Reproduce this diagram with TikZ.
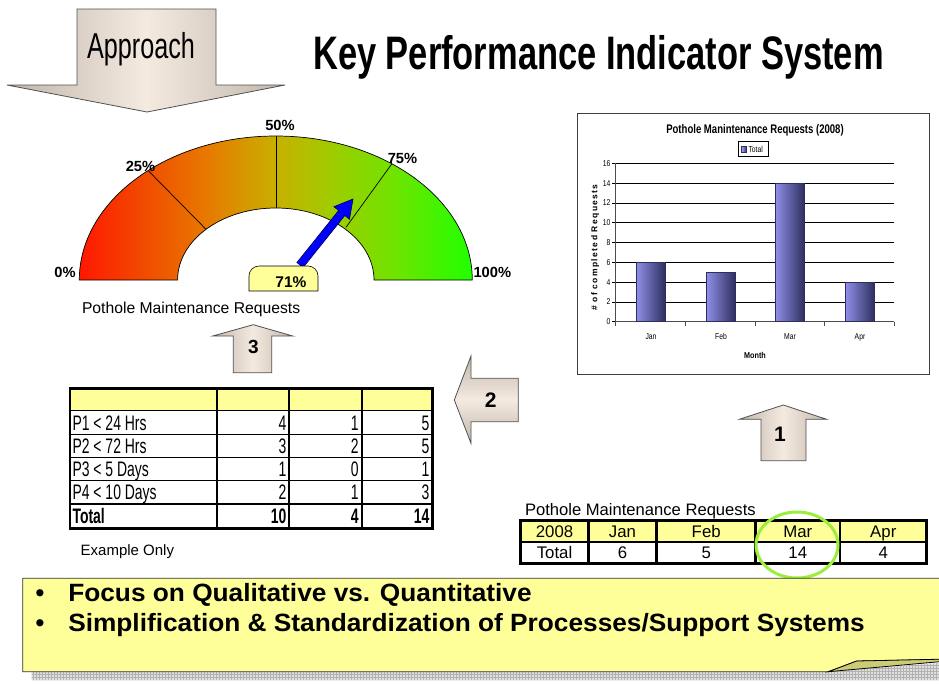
\documentclass[tikz,border=0pt]{standalone}
\usepackage{fontspec}
\usepackage{graphicx}
\setmainfont{Liberation Sans}
\usetikzlibrary{patterns,calc}
\definecolor{ylw}{HTML}{FFFF99}
\definecolor{arrowlight}{HTML}{F4EAE0}
\definecolor{arrowdark}{HTML}{C2B6AA}
\definecolor{arrowline}{HTML}{505050}
\definecolor{barL}{HTML}{8E8EE6}
\definecolor{barM}{HTML}{A8A8FF}
\definecolor{barR}{HTML}{2E2E5E}
\definecolor{ringgreen}{HTML}{9CEE3C}
\definecolor{foldcol}{HTML}{CCCC77}
\definecolor{g0}{HTML}{FF1800}
\definecolor{g1}{HTML}{F05000}
\definecolor{g2}{HTML}{E87800}
\definecolor{g3}{HTML}{C8B000}
\definecolor{g4}{HTML}{A0CC00}
\definecolor{g5}{HTML}{70E400}
\definecolor{g6}{HTML}{20FF00}
\pgfdeclarehorizontalshading{gaugeshade}{100bp}{color(0bp)=(g0); color(25bp)=(g0); color(34bp)=(g1); color(41bp)=(g2); color(50bp)=(g3); color(57bp)=(g4); color(65bp)=(g5); color(75bp)=(g6); color(100bp)=(g6)}
\newcommand{\fsz}[1]{\fontsize{#1}{#1}\selectfont}
\newcommand{\nar}[2]{\scalebox{#1}[1]{#2}}
\begin{document}
\begin{tikzpicture}[x=1pt,y=-1pt,
  every node/.style={inner sep=0pt, outer sep=0pt},
  bigarrow/.style={draw=arrowline, line width=0.8pt, left color=arrowdark, right color=arrowdark, middle color=arrowlight},
  pct/.style={font=\fsz{14.7}\bfseries, text height=10.5pt, text depth=0pt},
  numlbl/.style={font=\fsz{21}\bfseries, text height=15pt, text depth=0pt},
  tbl/.style={font=\fsz{21}, text height=15pt, text depth=0pt},
  tblb/.style={font=\fsz{21}\bfseries, text height=15pt, text depth=0pt},
  plain/.style={font=\fsz{15.7}, text height=11.2pt, text depth=0pt},
  rtbl/.style={font=\fsz{16.8}, text height=12pt, text depth=0pt},
  chart/.style={font=\fsz{8.5}, text height=6.1pt, text depth=0pt},
  chartb/.style={font=\fsz{8.5}\bfseries, text height=6.1pt, text depth=0pt},
  banner/.style={font=\fsz{25}\bfseries},
]
\useasboundingbox (0,0) rectangle (939,683);
\fill[white] (0,0) rectangle (939,683);

% ---------- Approach arrow ----------
\shadedraw[bigarrow] (77,9) -- (216,9) -- (216,85) -- (285,85) -- (147,112) -- (7,85) -- (77,85) -- cycle;
\node[font=\fsz{36}, text height=25.8pt, text depth=0pt] (approach) at (141,46) {\nar{0.70}{Approach}};

% ---------- Title ----------
\node[font=\fsz{47}\bfseries, text height=33.6pt, text depth=0pt] (title) at (598.5,52.2) {\nar{0.733}{Key Performance Indicator System}};

% ---------- Gauge ----------
\shadedraw[shading=gaugeshade, draw=black, line width=0.7pt] (79.3,280) arc[start angle=180, end angle=360, x radius=196.5, y radius=144] -- (374,280) arc[start angle=0, end angle=-180, x radius=98.2, y radius=72] -- cycle;
\draw[line width=0.7pt] (148.3,170.7) -- (205.7,229);
\draw[line width=0.7pt] (276.3,136) -- (276.3,208.3);
\draw[line width=0.7pt] (391.7,164) -- (346,227.3);
% needle
\draw[fill=blue, draw=black!70!blue, line width=0.6pt] (303.1,267.5) -- (344.8,215.5) -- (349.5,219.3) -- (353,199) -- (333.9,206.7) -- (338.6,210.5) -- (296.9,262.5) -- cycle;
% value box
\draw[fill=ylw, line width=0.6pt] (249,291) [rounded corners=10pt] -- (249,266) -- (318,266) [sharp corners] -- (318,291) -- cycle;
\node[font=\fsz{15.5}\bfseries, text height=11.1pt, text depth=0pt] (val) at (291,281.5) {71\%};
\node[pct] (p0) at (65,272.7) {0\%};
\node[pct] (p25) at (140.5,166) {25\%};
\node[pct] (p50) at (280,125) {50\%};
\node[pct] (p75) at (402.5,158.3) {75\%};
\node[pct] (p100) at (492.3,272.7) {100\%};
\node[plain, anchor=west] (gcap) at (82,308) {Pothole Maintenance Requests};

% ---------- Arrows 1,2,3 ----------
\shadedraw[bigarrow] (233.3,372.7) -- (233.3,336) -- (212.7,336) -- (253.3,324.7) -- (292.7,336) -- (271.7,336) -- (271.7,372.7) -- cycle;
\node[font=\fsz{19}\bfseries, text height=13.6pt, text depth=0pt] (n3) at (253.3,347) {3};
\shadedraw[draw=arrowline, line width=0.8pt, top color=arrowdark, bottom color=arrowdark, middle color=arrowlight] (518.3,378.3) -- (471,378.3) -- (471,356) -- (454.3,400) -- (471,443.3) -- (471,421.7) -- (518.3,421.7) -- cycle;
\node[numlbl] (n2) at (490.7,400) {2};
\shadedraw[bigarrow] (761,460.7) -- (761,419.3) -- (739.3,419.3) -- (783.3,405) -- (826.7,419.3) -- (806,419.3) -- (806,460.7) -- cycle;
\node[numlbl] (n1) at (780,434) {1};

% ---------- Chart ----------
\draw[draw=black!75, line width=1.5pt, fill=white] (577.7,113.3) rectangle (929.3,374.3);
\node[font=\fsz{12.5}\bfseries, text height=9pt, text depth=0pt] (ctitle) at (755,129.3) {\nar{0.765}{Pothole Manintenance Requests (2008)}};
\draw[line width=0.6pt] (738.3,141.7) rectangle (768.3,156);
\shadedraw[left color=barM, right color=barR, draw=barR, line width=0.4pt] (741.5,146) rectangle (746.5,152);
\node[chart, anchor=west] (leg) at (748.5,149) {\nar{0.8}{Total}};
\foreach \v in {2,4,...,16}
  \draw[line width=0.6pt] (615.7,{321.7-\v*9.9}) -- (894.3,{321.7-\v*9.9});
\foreach \v in {0,2,...,16} {
  \draw[line width=0.6pt] (612,{321.7-\v*9.9}) -- (615.7,{321.7-\v*9.9});
  \node[chart, anchor=east] (yl\v) at (610.5,{321.7-\v*9.9}) {\nar{0.8}{\v}};
}
\draw[line width=0.8pt, black!70] (615.7,163.3) -- (615.7,321.7);
\draw[line width=0.8pt, black!70] (615.7,321.7) -- (894.3,321.7);
\foreach \x in {615.7,685.4,755,824.7,894.3}
  \draw[line width=0.6pt, black!70] (\x,321.7) -- (\x,325.5);
\foreach \c/\v/\m in {651/6/Jan,721/5/Feb,790/14/Mar,860/4/Apr} {
  \shadedraw[left color=barL, middle color=barM, right color=barR, draw=barR, line width=0.5pt] (\c-14.5,321.7) rectangle (\c+14.5,{321.7-\v*9.9});
  \node[chart] (xl\m) at (\c,336.7) {\nar{0.8}{\m}};
}
\node[chartb] (month) at (755,355) {\nar{0.85}{Month}};
\node[chartb, rotate=90] (ytitle) at (594.3,247.5) {\addfontfeature{LetterSpace=16}\# of completed Requests};

% ---------- Left table ----------
\fill[ylw] (70,388.3) rectangle (432.7,410.7);
\foreach \y in {410.7,434.3,457.3,480.7}
  \draw[line width=1pt] (70,\y) -- (432.7,\y);
\draw[line width=2pt] (70,504) -- (432.7,504);
\foreach \x in {217.3,289.3,361.7}
  \draw[line width=2pt] (\x,388.3) -- (\x,528.3);
\draw[line width=2.5pt] (70,388.3) rectangle (432.7,528.3);
\foreach \r/\y/\lab/\a/\b/\c in {1/422.5/{P1 < 24 Hrs}/4/1/5, 2/445.8/{P2 < 72 Hrs}/3/2/5, 3/469/{P3 < 5 Days}/1/0/1, 4/492.3/{P4 < 10 Days}/2/1/3} {
  \node[tbl, anchor=west] (lt\r) at (72.5,\y) {\nar{0.665}{\lab}};
  \node[tbl, anchor=east] (la\r) at (286.3,\y) {\nar{0.665}{\a}};
  \node[tbl, anchor=east] (lb\r) at (358.7,\y) {\nar{0.665}{\b}};
  \node[tbl, anchor=east] (lc\r) at (429.5,\y) {\nar{0.665}{\c}};
}
\node[tblb, anchor=west] (ltT) at (72.5,516.2) {\nar{0.665}{Total}};
\node[tblb, anchor=east] (laT) at (286.3,516.2) {\nar{0.665}{10}};
\node[tblb, anchor=east] (lbT) at (358.7,516.2) {\nar{0.665}{4}};
\node[tblb, anchor=east] (lcT) at (429.5,516.2) {\nar{0.665}{14}};
\node[font=\fsz{15}, text height=10.7pt, text depth=0pt, anchor=west] (example) at (80.7,550) {Example Only};

% ---------- Bottom-right table ----------
\node[font=\fsz{16.6}, text height=11.9pt, text depth=0pt, anchor=west] (rcap) at (525,510) {Pothole Maintenance Requests};
\fill[ylw] (520.7,520.7) rectangle (926.7,541.7);
\draw[line width=2pt] (520.7,541.7) -- (926.7,541.7);
\foreach \x in {588.3,656.7,755.7,840}
  \draw[line width=2.5pt] (\x,520.7) -- (\x,563.3);
\draw[line width=3pt] (520.7,520.7) rectangle (926.7,563.3);
\foreach \i/\x/\h/\v in {1/554.5/2008/Total, 2/622.5/Jan/6, 3/706.2/Feb/5, 4/797.8/Mar/14, 5/883.3/Apr/4} {
  \node[rtbl] (rh\i) at (\x,531.2) {\h};
  \node[rtbl] (rv\i) at (\x,552.5) {\v};
}
\draw[ringgreen, line width=3pt] (797,545) ellipse [x radius=41, y radius=33];

% ---------- Banner ----------
\fill[gray!25] (31.7,671.7) -- (828.3,671.7) -- (939,663) -- (939,680) -- (31.7,680) -- cycle;
\fill[pattern=grid, pattern color=gray!60] (31.7,671.7) -- (828.3,671.7) -- (939,663) -- (939,680) -- (31.7,680) -- cycle;
\draw[fill=ylw, draw=black!80, line width=0.8pt] (945,578.3) -- (22.7,578.3) -- (22.7,671.7) -- (828.3,671.7) -- (856.7,661) -- (945,659.3);
\draw[fill=foldcol, draw=black, line width=0.8pt] (828.3,671.7) -- (856.7,661) -- (945,659.1) -- (945,661.2) -- cycle;
\node[banner, anchor=base] (b1) at (40,601.7) {•};
\node[banner, anchor=base] (b2) at (40,631.7) {•};
\node[banner, anchor=base west] (t1) at (68.3,601.7) {\nar{1.05}{Focus on Qualitative vs. Quantitative}};
\node[banner, anchor=base west] (t2) at (68.3,631.7) {\nar{1.05}{Simplification \& Standardization of Processes/Support Systems}};
\end{tikzpicture}
\end{document}
